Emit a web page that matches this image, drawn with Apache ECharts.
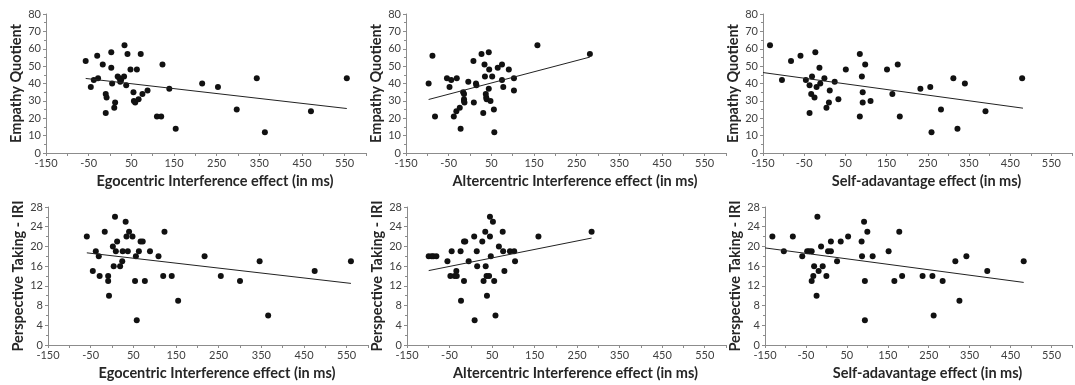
<!DOCTYPE html>
<html>
<head>
<meta charset="utf-8">
<script src="https://cdn.jsdelivr.net/npm/echarts@6/dist/echarts.min.js"></script>
<style>
  html, body { margin: 0; padding: 0; background: #fff; }
  #chart { width: 1075px; height: 385px; }
</style>
</head>
<body>
<div id="chart"></div>
<script>
// x values (ms) and scores
const egoX_EQ = [-57, -45, -38, -30, -28, -17, -10, -8, -10, 3, 3, 5, 10, 12, 18, 22, 24, 26, 33, 34, 38, 41, 48, 55, 56, 59, 63, 67, 72, 76, 88, 110, 120, 123, 139, 154, 216, 253, 297, 344, 363, 471, 555];
const egoY_EQ = [53, 38, 42, 56, 43, 51, 34, 32, 23, 58, 49, 40, 26, 29, 44, 43, 41, 42, 44, 62, 39, 57, 48, 35, 30, 29, 48, 31, 57, 34, 36, 21, 21, 51, 37, 14, 40, 38, 25, 43, 12, 24, 43];

const altX_EQ = [-97, -88, -82, -54, -48, -44, -38, -32, -31, -24, -22, -16, -14, -14, -14, -13, -4, 8, 9, 14, 15, 27, 31, 34, 35, 37, 38, 39, 44, 44, 45, 48, 52, 56, 57, 65, 75, 75, 78, 91, 103, 103, 158, 281];
const altY_EQ = [40, 56, 21, 43, 38, 42, 21, 24, 43, 26, 14, 35, 34, 31, 30, 29, 41, 53, 29, 40, 39, 57, 23, 51, 44, 34, 32, 31, 58, 37, 48, 30, 44, 25, 12, 49, 51, 42, 38, 48, 43, 36, 62, 57];

const selfX_EQ = [-133, -104, -82, -59, -46, -37, -37, -33, -31, -25, -23, -20, -13, -11, -1, 4, 10, 12, 24, 33, 51, 85, 85, 90, 92, 92, 98, 111, 151, 164, 177, 182, 232, 256, 259, 282, 312, 322, 340, 390, 479];
const selfY_EQ = [62, 42, 53, 56, 42, 39, 23, 34, 44, 32, 58, 38, 49, 40, 43, 26, 29, 36, 41, 31, 48, 57, 21, 44, 35, 29, 51, 30, 48, 34, 51, 21, 37, 38, 12, 25, 43, 14, 40, 24, 43];

const egoX_PT = [-59, -45, -38, -31, -29, -17, -9, -9, -7, 2, 4, 7, 9, 12, 19, 24, 25, 32, 34, 37, 40, 48, 54, 56, 58, 63, 67, 72, 77, 89, 109, 120, 123, 140, 155, 217, 255, 300, 346, 366, 475, 560];
const egoY_PT = [22, 15, 19, 18, 14, 23, 14, 13, 10, 20, 16, 26, 19, 21, 16, 17, 19, 25, 22, 19, 23, 22, 13, 18, 5, 19, 21, 21, 13, 19, 18, 14, 23, 14, 9, 18, 14, 13, 17, 6, 15, 17];

const altX_PT = [-99, -92, -88, -81, -55, -48, -38, -33, -45, -34, -24, -23, -16, -13, -16, -5, 8, 9, 14, 15, 27, 30, 34, 35, 37, 38, 43, 45, 45, 47, 52, 55, 58, 66, 75, 76, 79, 92, 102, 104, 159, 284];
const altY_PT = [18, 18, 18, 18, 17, 14, 14, 14, 19, 15, 19, 9, 21, 21, 13, 17, 22, 5, 19, 16, 21, 13, 23, 16, 14, 10, 14, 26, 22, 18, 25, 13, 6, 20, 23, 19, 15, 19, 19, 17, 22, 23];

const selfX_PT = [-132, -104, -82, -59, -47, -42, -36, -36, -32, -30, -24, -22, -19, -13, -9, 0, 4, 11, 11, 26, 35, 53, 86, 87, 92, 94, 94, 100, 113, 152, 166, 178, 185, 235, 259, 262, 284, 315, 325, 342, 393, 482];
const selfY_PT = [22, 19, 22, 18, 19, 19, 19, 13, 14, 16, 10, 26, 15, 20, 16, 14, 19, 19, 21, 17, 21, 22, 21, 18, 25, 13, 5, 23, 18, 19, 13, 23, 14, 14, 14, 6, 13, 17, 9, 18, 15, 17];

// trend line end points as drawn
const trendX = [[-57, 555], [-97, 281], [-150, 481], [-59, 560], [-99, 284], [-150, 482]];
const trendY = [[42.9, 25.6], [30.8, 55.2], [46.3, 25.8], [18.7, 12.5], [15.1, 21.7], [19.7, 12.7]];

const xTitles = ['Egocentric Interference effect (in ms)', 'Altercentric Interference effect (in ms)', 'Self-adavantage effect (in ms)'];
const yTitles = ['Empathy Quotient', 'Perspective Taking - IRI'];

const panels = [
  { x: egoX_EQ, y: egoY_EQ, row: 0, col: 0 },
  { x: altX_EQ, y: altY_EQ, row: 0, col: 1 },
  { x: selfX_EQ, y: selfY_EQ, row: 0, col: 2 },
  { x: egoX_PT, y: egoY_PT, row: 1, col: 0 },
  { x: altX_PT, y: altY_PT, row: 1, col: 1 },
  { x: selfX_PT, y: selfY_PT, row: 1, col: 2 },
];

const gridBoxes = [
  { left: 46, top: 14, width: 320, height: 139 },
  { left: 406, top: 14, width: 320, height: 139 },
  { left: 763, top: 14, width: 321, height: 139 },
  { left: 48, top: 207, width: 320, height: 138 },
  { left: 407, top: 207, width: 319, height: 138 },
  { left: 765, top: 207, width: 320, height: 138 },
];

const font = 'Lato, "Liberation Sans", sans-serif';
const axisGrey = '#8c8c8c';

const xAxes = panels.map((p, i) => ({
  type: 'value',
  gridIndex: i,
  min: -150,
  max: 600,
  interval: 50,
  name: xTitles[p.col],
  nameLocation: 'middle',
  nameGap: 21,
  nameTextStyle: { fontFamily: font, fontSize: 14.5, fontWeight: 'bold', color: '#262626', padding: [0, 0, 0, 18] },
  axisLine: { show: true, onZero: false, lineStyle: { color: axisGrey, width: 1 } },
  axisTick: { show: true, length: 3, lineStyle: { color: axisGrey } },
  axisLabel: {
    fontFamily: font, fontSize: 11, color: '#404040', margin: 5,
    formatter: v => ((v + 150) % 100 === 0 ? String(v) : ''),
  },
  splitLine: { show: false },
}));

const yAxes = panels.map((p, i) => ({
  type: 'value',
  gridIndex: i,
  min: 0,
  max: p.row === 0 ? 80 : 28,
  interval: p.row === 0 ? 10 : 4,
  name: yTitles[p.row],
  nameLocation: 'middle',
  nameGap: 22,
  nameTextStyle: { fontFamily: font, fontSize: 14.5, fontWeight: 'bold', color: '#262626' },
  axisLine: { show: true, onZero: false, lineStyle: { color: axisGrey, width: 1 } },
  axisTick: { show: true, length: 3, lineStyle: { color: axisGrey } },
  minorTick: { show: true, splitNumber: 2, length: 2, lineStyle: { color: axisGrey } },
  axisLabel: { fontFamily: font, fontSize: 11, color: '#404040', margin: 5 },
  splitLine: { show: false },
}));

const series = [];
panels.forEach((p, i) => {
  series.push({
    type: 'scatter',
    xAxisIndex: i,
    yAxisIndex: i,
    symbolSize: 6,
    itemStyle: { color: '#111', opacity: 1 },
    data: p.x.map((v, k) => [v, p.y[k]]),
  });
  series.push({
    type: 'line',
    xAxisIndex: i,
    yAxisIndex: i,
    showSymbol: false,
    lineStyle: { color: '#222', width: 1 },
    data: trendX[i].map((v, k) => [v, trendY[i][k]]),
  });
});

const chart = echarts.init(document.getElementById('chart'), null, { renderer: 'canvas' });
chart.setOption({
  animation: false,
  backgroundColor: '#fff',
  grid: gridBoxes,
  xAxis: xAxes,
  yAxis: yAxes,
  series: series,
});
</script>
</body>
</html>
